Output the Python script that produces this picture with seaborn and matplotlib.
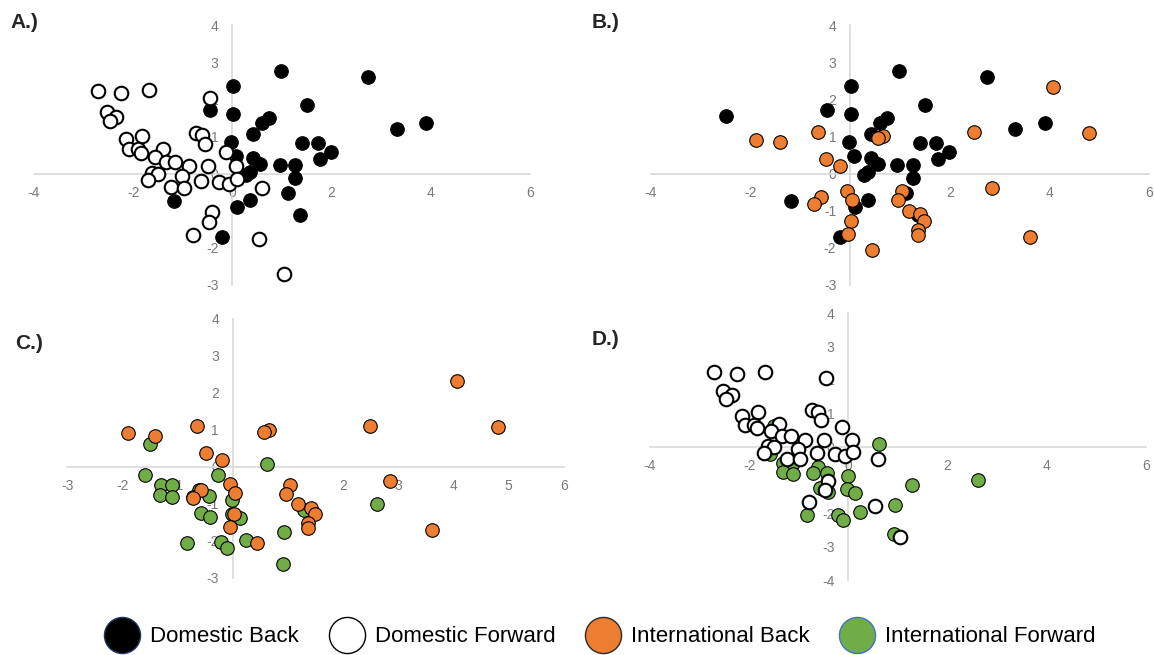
import matplotlib
matplotlib.use("Agg")
import matplotlib.pyplot as plt
from matplotlib.lines import Line2D
import seaborn as sns
import pandas as pd

# Domestic Back (black)
db_x = [0.98, 2.74, 0.02, 1.51, -0.46, -2.49, 0.02, 0.73, 0.59, 3.91, 3.32, 0.42, -0.03, 1.41, 1.73, 1.98,
        0.08, 0.42, 1.77, 0.55, 0.95, 1.27, 0.35, 0.28, 1.26, 1.13, -1.18, 0.35, 0.09, 1.37, -0.21]
db_y = [2.76, 2.60, 2.37, 1.84, 1.72, 1.54, 1.61, 1.49, 1.36, 1.36, 1.19, 1.07, 0.86, 0.83, 0.83, 0.57,
        0.46, 0.42, 0.40, 0.26, 0.22, 0.22, 0.03, -0.04, -0.12, -0.52, -0.75, -0.70, -0.90, -1.12, -1.72]

# Domestic Forward (white)
df_x = [-2.72, -2.25, -1.69, -0.46, -2.53, -2.34, -2.46, -2.14, -1.82, -0.73, -0.62, -0.56, -2.08, -1.90,
        -1.84, -1.41, -1.57, -1.33, -1.15, -0.87, -0.49, -0.12, 0.07, -1.63, -1.51, -1.71, -1.01, -1.24,
        -0.98, -0.64, -0.27, -0.06, 0.10, 0.59, -0.41, -0.47, -0.79, 0.54, 1.03]
df_y = [2.22, 2.18, 2.24, 2.04, 1.65, 1.53, 1.42, 0.92, 1.02, 1.10, 1.03, 0.79, 0.65, 0.65,
        0.56, 0.67, 0.45, 0.32, 0.31, 0.20, 0.20, 0.57, 0.21, 0.02, -0.02, -0.18, -0.07, -0.36,
        -0.38, -0.20, -0.22, -0.27, -0.15, -0.38, -1.03, -1.30, -1.66, -1.77, -2.71]

# International Back (orange)
ib_x = [4.07, -1.90, -1.41, -0.65, 0.66, 0.56, 2.48, 4.80, -0.48, -0.20, -0.06, -0.58, -0.72, 0.04,
        2.85, 1.04, 0.96, 1.18, 1.41, 1.49, 0.02, 1.36, 1.36, -0.05, 0.43, 3.61]
ib_y = [2.33, 0.91, 0.85, 1.11, 1.01, 0.95, 1.11, 1.08, 0.39, 0.20, -0.46, -0.62, -0.83, -0.71,
        -0.39, -0.48, -0.72, -1.00, -1.10, -1.27, -1.28, -1.52, -1.66, -1.63, -2.05, -1.70]

# International Forward (green)
if_x = [-1.50, 0.61, -1.59, -0.27, -1.31, -1.11, -1.32, -1.11, -0.62, -0.72, -0.44, -0.01, -0.58, -0.42,
        -0.02, 0.13, 2.61, 1.29, 0.93, -0.84, -0.21, -0.10, 0.24, 0.91]
if_y = [0.62, 0.08, -0.21, -0.21, -0.50, -0.50, -0.77, -0.82, -0.61, -0.80, -0.79, -0.88, -1.25, -1.35,
        -1.27, -1.38, -0.99, -1.15, -1.75, -2.06, -2.04, -2.20, -1.97, -2.63]

groups = {
    "Domestic Back": (db_x, db_y, "black", 0.8, "#203864"),
    "Domestic Forward": (df_x, df_y, "white", 1.5, "black"),
    "International Back": (ib_x, ib_y, "#ed7d31", 0.8, "#2a2a2a"),
    "International Forward": (if_x, if_y, "#70ad47", 0.8, "#4472c4"),
}

sns.set_style("white")
plt.rcParams['font.family'] = ['Liberation Sans', 'DejaVu Sans']
plt.rcParams['axes.unicode_minus'] = False

fig = plt.figure(figsize=(11.54, 6.55), dpi=100)

# label, axes rect, series (draw order), xlim, ylim, x tick step, label position
panels = [
    ("A.)", [0.0295, 0.5649, 0.4298, 0.3969], ["Domestic Back", "Domestic Forward"], (-4, 6), (-3, 4), 2, (0.009, 0.965)),
    ("B.)", [0.5641, 0.5649, 0.4315, 0.3969], ["Domestic Back", "International Back"], (-4, 6), (-3, 4), 2, (0.513, 0.965)),
    ("C.)", [0.0584, 0.1176, 0.4303, 0.3954], ["International Forward", "International Back"], (-3, 6), (-3, 4), 1, (0.013, 0.476)),
    ("D.)", [0.5633, 0.1145, 0.4298, 0.4076], ["International Forward", "Domestic Forward"], (-4, 6), (-4, 4), 2, (0.513, 0.481)),
]

for lab, rect, names, xlim, ylim, step, lpos in panels:
    ax = fig.add_axes(rect)
    for n in names:
        x, y, c, lw, _ = groups[n]
        d = pd.DataFrame({"x": x, "y": y})
        sns.scatterplot(data=d, x="x", y="y", color=c, edgecolor="black", linewidth=lw,
                        s=95, ax=ax, zorder=3)
    ax.set_xlim(*xlim)
    ax.set_ylim(*ylim)
    ax.set_xticks(range(xlim[0], xlim[1] + 1, step))
    ax.set_yticks(range(ylim[0], ylim[1] + 1))
    ax.set_xlabel("")
    ax.set_ylabel("")
    for s in ["top", "right"]:
        ax.spines[s].set_visible(False)
    ax.spines["left"].set_position(("data", 0))
    ax.spines["bottom"].set_position(("data", 0))
    for s in ["left", "bottom"]:
        ax.spines[s].set_color("#d9d9d9")
        ax.spines[s].set_linewidth(1.2)
        ax.spines[s].set_zorder(1)
    ax.tick_params(length=0, labelsize=10, colors="#7a7a7a")
    ax.tick_params(axis="x", pad=9)
    ax.tick_params(axis="y", pad=10)
    ax.patch.set_alpha(0)
    fig.text(lpos[0], lpos[1], lab, fontsize=15, fontweight="bold", va="center", ha="left")

handles = [Line2D([], [], marker="o", linestyle="", markersize=26, markerfacecolor=groups[n][2],
                  markeredgecolor=groups[n][4], markeredgewidth=1.0, label=n) for n in groups]
fig.legend(handles=handles, loc="center left", bbox_to_anchor=(106.5 / 1154, 0.0275), ncol=4,
           frameon=False, fontsize=16, labelcolor="black", handletextpad=0.56, columnspacing=1.45,
           handlelength=1.4, borderpad=0, borderaxespad=0)

fig.savefig("out.png", dpi=100)
